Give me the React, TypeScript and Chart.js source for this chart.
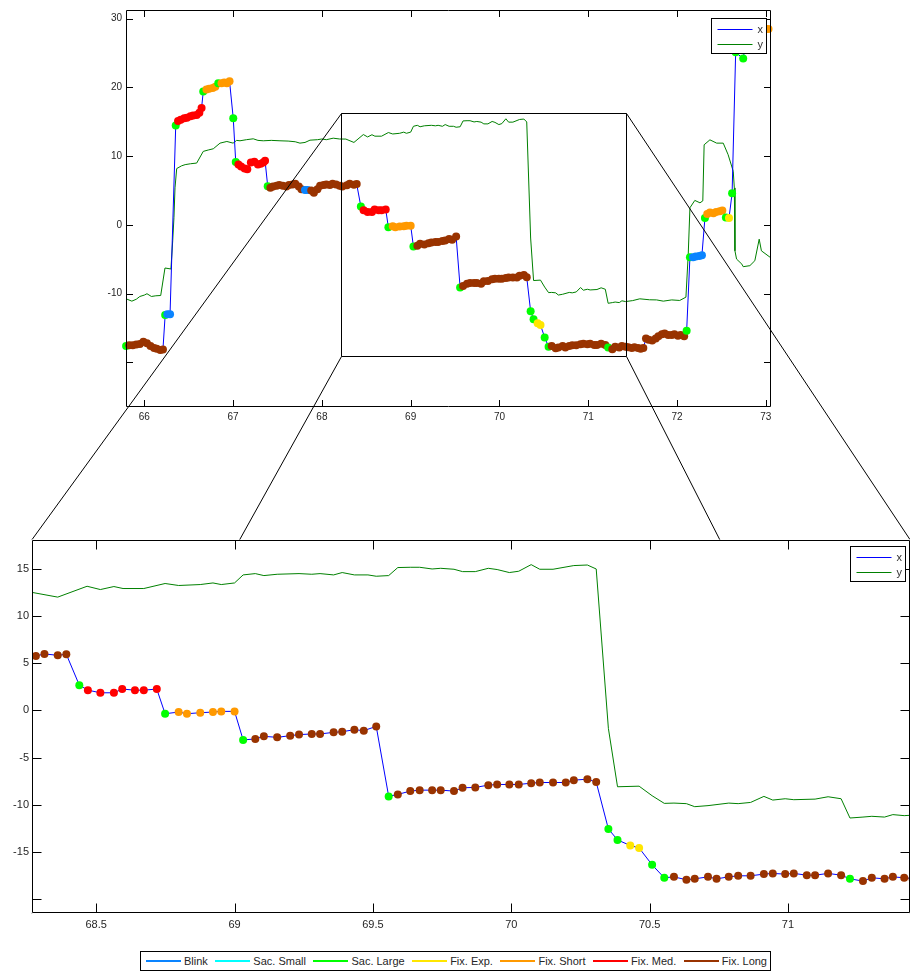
import React, { useEffect, useRef } from "react";
import { Chart, registerables } from "chart.js";

Chart.register(...registerables);

// ---------- data: horizontal gaze position (x) samples with event class ----------
const times = [
  65.795, 65.83, 65.87, 65.91, 65.95, 65.99, 66.03, 66.07, 66.11, 66.14, 66.18, 66.21,
  66.235, 66.26, 66.29, 66.354,
  66.38, 66.41, 66.45, 66.48, 66.52, 66.55, 66.59, 66.62, 66.645,
  66.664, 66.7, 66.73, 66.77, 66.8, 66.833, 66.87, 66.9, 66.93, 66.96,
  67.002, 67.03, 67.06, 67.09, 67.13, 67.16, 67.2, 67.24, 67.28, 67.31, 67.34, 67.36,
  67.39, 67.42, 67.45, 67.49, 67.52, 67.56, 67.6, 67.63, 67.67, 67.7, 67.74, 67.77,
  67.81, 67.84, 67.88, 67.91, 67.95, 67.98, 68.02, 68.05, 68.09, 68.12, 68.16, 68.2, 68.23,
  68.282, 68.313, 68.361, 68.392,
  68.439, 68.47, 68.515, 68.564, 68.594, 68.64, 68.672, 68.719,
  68.749, 68.798, 68.828, 68.876, 68.922, 68.952, 69.0,
  69.031, 69.075, 69.106, 69.154, 69.201, 69.233, 69.279, 69.309, 69.358, 69.389, 69.433, 69.467, 69.512,
  69.557, 69.59, 69.635, 69.669, 69.714, 69.745, 69.793, 69.824, 69.87, 69.917, 69.949, 69.993, 70.027, 70.072, 70.103, 70.151, 70.197, 70.226, 70.275, 70.307,
  70.351, 70.384, 70.43, 70.462, 70.509, 70.553,
  70.588, 70.633, 70.663, 70.711, 70.742, 70.786, 70.82, 70.865, 70.913, 70.945, 70.99, 71.021, 71.068, 71.098, 71.145, 71.192,
  71.224, 71.271, 71.303, 71.349, 71.379, 71.42, 71.45, 71.49, 71.52, 71.56, 71.59, 71.62,
  71.65, 71.68, 71.72, 71.76, 71.79, 71.83, 71.86, 71.9, 71.94, 71.97, 72.01, 72.04, 72.08,
  72.108, 72.145, 72.18, 72.21, 72.25, 72.28, 72.314,
  72.34, 72.37, 72.41, 72.44, 72.48, 72.51,
  72.55, 72.585, 72.62, 72.66, 72.745, 72.78,
  72.82, 72.86, 72.89, 72.93, 72.96, 73.0, 73.03,
];

const xSignal = [
  -17.6, -17.5, -17.5, -17.4, -17.3, -17.0, -17.2, -17.6, -17.9, -18.0, -18.2, -18.1,
  -13.1, -13.0, -13.0, 14.45,
  15.1, 15.3, 15.5, 15.6, 15.8, 15.9, 16.0, 16.3, 17.0,
  19.4, 19.7, 19.8, 19.9, 20.1, 20.6, 20.6, 20.7, 20.6, 20.9,
  15.5, 9.15, 8.8, 8.5, 8.2, 8.1, 9.1, 9.2, 8.8, 8.9, 9.1, 9.35,
  5.64, 5.4, 5.6, 5.7, 5.8, 5.7, 5.6, 5.8, 5.9, 6.0, 5.6, 5.2,
  5.1, 5.1, 5.0, 4.7, 5.2, 5.7, 5.8, 5.9, 5.8, 6.0, 5.9, 5.7, 5.6,
  5.77, 5.98, 5.84, 5.95,
  2.68, 2.15, 1.87, 1.87, 2.26, 2.15, 2.15, 2.26,
  -0.35, -0.17, -0.35, -0.24, -0.17, -0.1, -0.1,
  -3.12, -3.02, -2.74, -2.85, -2.67, -2.56, -2.49, -2.49, -2.32, -2.25, -2.04, -2.14, -1.69,
  -9.1, -8.89, -8.54, -8.44, -8.44, -8.44, -8.54, -8.19, -8.15, -7.91, -7.84, -7.84, -7.84, -7.7, -7.63, -7.63, -7.63, -7.38, -7.28, -7.59,
  -12.55, -13.71, -14.3, -14.56, -16.35, -17.72,
  -17.62, -17.93, -17.83, -17.62, -17.83, -17.62, -17.51, -17.51, -17.33, -17.26, -17.33, -17.26, -17.44, -17.44, -17.26, -17.44,
  -17.83, -18.07, -17.72, -17.83, -17.62, -17.72, -17.8, -17.9, -17.8, -17.9, -18.0, -17.9,
  -16.5, -16.7, -16.8, -16.5, -16.2, -15.9, -15.8, -16.0, -16.0, -15.9, -16.1, -16.0, -16.2,
  -15.4, -4.7, -4.7, -4.6, -4.5, -4.4, 1.0,
  1.6, 1.8, 1.7, 1.9, 2.0, 2.1,
  1.1, 1.0, 4.6, 25.1, 24.2, 27.0,
  28.3, 28.4, 28.4, 28.5, 28.5, 28.5, 28.5,
];

const events = [
  "SL", "FL", "FL", "FL", "FL", "FL", "FL", "FL", "FL", "FL", "FL", "FL",
  "SL", "B", "B", "SL",
  "FM", "FM", "FM", "FM", "FM", "FM", "FM", "FM", "FM",
  "SL", "FS", "FS", "FS", "FS", "SL", "FS", "FS", "FS", "FS",
  "SL", "SL", "FM", "FM", "FM", "FM", "FM", "FM", "FM", "FM", "FM", "FM",
  "SL", "FL", "FL", "FL", "FL", "FL", "FL", "FL", "FL", "FL", "FL", "FL",
  "B", "B", "FL", "FL", "FL", "FL", "FL", "FL", "FL", "FL", "FL", "FL", "FL",
  "FL", "FL", "FL", "FL",
  "SL", "FM", "FM", "FM", "FM", "FM", "FM", "FM",
  "SL", "FS", "FS", "FS", "FS", "FS", "FS",
  "SL", "FL", "FL", "FL", "FL", "FL", "FL", "FL", "FL", "FL", "FL", "FL", "FL",
  "SL", "FL", "FL", "FL", "FL", "FL", "FL", "FL", "FL", "FL", "FL", "FL", "FL", "FL", "FL", "FL", "FL", "FL", "FL", "FL",
  "SL", "SL", "FE", "FE", "SL", "SL",
  "FL", "FL", "FL", "FL", "FL", "FL", "FL", "FL", "FL", "FL", "FL", "FL", "FL", "FL", "FL", "FL",
  "SL", "FL", "FL", "FL", "FL", "FL", "FL", "FL", "FL", "FL", "FL", "FL",
  "FL", "FL", "FL", "FL", "FL", "FL", "FL", "FL", "FL", "FL", "FL", "FL", "FL",
  "SL", "SL", "B", "B", "B", "B", "SL",
  "FS", "FS", "FS", "FS", "FS", "FS",
  "SL", "FE", "SL", "SL", "SL", "SL",
  "FS", "FS", "FS", "FS", "FS", "FS", "FS",
];

// ---------- data: vertical gaze position (y) ----------
const yTimes = [
  65.795, 65.86, 65.91, 65.95, 66.0, 66.03, 66.08, 66.13, 66.185, 66.233, 66.3, 66.32, 66.334, 66.346, 66.365,
  66.42, 66.46, 66.52, 66.59, 66.664, 66.72, 66.777, 66.853, 66.93, 67.0, 67.04, 67.078, 67.15, 67.227, 67.28,
  67.34, 67.43, 67.528, 67.62, 67.7, 67.753, 67.81, 67.866, 67.95, 68.0, 68.05, 68.128, 68.2,
  68.27, 68.361, 68.467, 68.515, 68.564, 68.597, 68.672, 68.749, 68.798, 68.876, 68.922, 68.952, 69.0,
  69.031, 69.075, 69.106, 69.154, 69.233, 69.279, 69.309, 69.358, 69.389, 69.433, 69.482, 69.512, 69.557,
  69.59, 69.635, 69.669, 69.714, 69.745, 69.793, 69.824, 69.87, 69.917, 69.949, 69.993, 70.027, 70.072,
  70.103, 70.151, 70.226, 70.275, 70.307, 70.351, 70.384, 70.462, 70.509, 70.553, 70.588, 70.633, 70.663,
  70.711, 70.786, 70.82, 70.865, 70.913, 70.945, 70.99, 71.021, 71.098, 71.145, 71.192, 71.224, 71.271,
  71.303, 71.349, 71.379, 71.42, 71.5, 71.58, 71.69, 71.77, 71.845, 71.94, 72.03, 72.1, 72.126, 72.145,
  72.2, 72.258, 72.29, 72.305, 72.37, 72.446, 72.52, 72.575, 72.633, 72.645, 72.652, 72.67, 72.73, 72.745,
  72.82, 72.876, 72.925, 72.95, 73.05,
];

const ySignal = [
  -10.74, -11.08, -10.8, -10.4, -10.2, -10.0, -10.4, -10.3, -10.26, -6.26, -6.4, -2.3, 1.05, 5.4, 8.2,
  8.6, 8.77, 8.9, 9.0, 10.7, 10.9, 11.08, 11.9, 12.14, 11.9, 12.3, 12.24, 12.4, 12.53, 12.3,
  12.24, 12.3, 12.24, 12.2, 12.1, 11.9, 12.0, 12.33, 12.4, 12.5, 12.4, 12.62, 12.5,
  12.49, 12.0, 13.15, 12.8, 13.12, 12.91, 12.91, 13.44, 13.23, 13.33, 13.5, 13.33, 13.5,
  14.35, 14.49, 14.28, 14.42, 14.49, 14.42, 14.49, 14.35, 14.6, 14.35, 14.35, 14.21, 14.28,
  15.13, 15.16, 15.16, 14.98, 15.05, 14.95, 14.7, 14.7, 15.05, 14.92, 14.6, 14.74, 15.44,
  14.95, 14.95, 15.34, 15.4, 14.98, -1.9, -8.08, -8.02, -9.03, -9.84, -9.81, -9.87, -10.19,
  -10.08, -9.81, -9.87, -9.74, -9.1, -9.49, -9.35, -9.45, -9.39, -9.14, -9.35, -11.39, -11.29,
  -11.21, -11.29, -11.03, -11.14, -11.0, -10.74, -10.88, -10.9, -11.08, -10.9, -10.98, -10.5, -4.24, 2.5,
  3.57, 3.22, 3.5, 11.66, 12.38, 11.9, 11.9, 10.22, 7.8, 5.39, -3.76, -4.96, -5.7, -6.07,
  -5.92, -5.2, -2.07, -3.76, -4.72,
];

// ---------- event classes ----------
const eventCodes = ["B", "SS", "SL", "FE", "FS", "FM", "FL"];
const eventLabels = ["Blink", "Sac. Small", "Sac. Large", "Fix. Exp.", "Fix. Short", "Fix. Med.", "Fix. Long"];
const eventColors = ["#0a84ff", "#00ffff", "#00ff00", "#ffe600", "#ff9900", "#ff0000", "#993300"];

// ---------- axes ----------
const overviewX = [65.794, 73.058];
const overviewY = [-26.4, 31.26];
const overviewXTicks = [66, 67, 68, 69, 70, 71, 72, 73];
const overviewYTicks = [-20, -10, 0, 10, 20, 30];
const detailX = [68.268, 71.441];
const detailY = [-21.48, 18.09];
const detailXTicks = [68.5, 69, 69.5, 70, 70.5, 71];
const detailYTicks = [-20, -15, -10, -5, 0, 5, 10, 15];
const unlabeledY = [-20];
const zoomWindowX = [68.215, 71.425];
const zoomWindowY = [-19.08, 16.23];

const FONT = '"Liberation Sans", Arial, Helvetica, sans-serif';

const n = Math.min(times.length, xSignal.length, events.length);
const xPoints = times.slice(0, n).map((t, i) => ({ x: t, y: xSignal[i] }));
const markerColors = events.slice(0, n).map((e) => eventColors[eventCodes.indexOf(e)]);
const yPoints = yTimes.map((t, i) => ({ x: t, y: ySignal[i] }));

function axesPlugin(p: any) {
  return {
    id: "matlabAxes",
    beforeDraw(chart: any) {
      const { ctx, chartArea: a } = chart;
      ctx.save();
      ctx.fillStyle = "#ffffff";
      ctx.fillRect(a.left, a.top, a.right - a.left, a.bottom - a.top);
      ctx.restore();
    },
    afterDraw(chart: any) {
      const { ctx, chartArea: a } = chart;
      const L = Math.round(a.left) + 0.5;
      const R = Math.round(a.right) - 0.5;
      const T = Math.round(a.top) + 0.5;
      const B = Math.round(a.bottom) - 0.5;
      ctx.save();
      ctx.strokeStyle = "#000";
      ctx.lineWidth = 1;
      ctx.beginPath();
      ctx.rect(L, T, R - L, B - T);
      const xs = chart.scales.x;
      const ys = chart.scales.y;
      xs.ticks.forEach((t: any) => {
        const px = Math.round(xs.getPixelForValue(t.value)) + 0.5;
        ctx.moveTo(px, B);
        ctx.lineTo(px, B - p.tickLen);
        ctx.moveTo(px, T);
        ctx.lineTo(px, T + p.tickLen);
      });
      ys.ticks.forEach((t: any) => {
        const py = Math.round(ys.getPixelForValue(t.value)) + 0.5;
        ctx.moveTo(L, py);
        ctx.lineTo(L + p.tickLen, py);
        ctx.moveTo(R, py);
        ctx.lineTo(R - p.tickLen, py);
      });
      ctx.stroke();

      // series legend (x / y)
      const lx = Math.round(a.right + p.legendDx) + 0.5;
      const ly = Math.round(a.top + p.legendDy) + 0.5;
      const w = 55;
      const h = 35;
      ctx.fillStyle = "#fff";
      ctx.fillRect(lx, ly, w, h);
      ctx.strokeStyle = "#000";
      ctx.strokeRect(lx, ly, w, h);
      ctx.font = `11px ${FONT}`;
      ctx.textBaseline = "middle";
      chart.data.datasets.forEach((ds: any, i: number) => {
        const yy = Math.round(ly + 10 + i * 15.5) + 0.5;
        ctx.strokeStyle = ds.borderColor;
        ctx.beginPath();
        ctx.moveTo(lx + 6, yy);
        ctx.lineTo(lx + 41, yy);
        ctx.stroke();
        ctx.fillStyle = "#333";
        ctx.fillText(ds.label, lx + 46, yy);
      });
      ctx.restore();
    },
  };
}

function makeConfig(p: any): any {
  return {
    type: "line",
    data: {
      datasets: [
        {
          label: "x",
          data: xPoints,
          borderColor: "#0000ff",
          borderWidth: 1,
          pointRadius: 4,
          pointBackgroundColor: markerColors,
          pointBorderColor: markerColors,
          pointBorderWidth: 0,
          tension: 0,
          clip: p.clip,
        },
        {
          label: "y",
          data: yPoints,
          borderColor: "#008000",
          borderWidth: 1,
          pointRadius: 0,
          tension: 0,
          clip: p.clip,
        },
      ],
    },
    options: {
      animation: false,
      responsive: false,
      devicePixelRatio: 1,
      events: [],
      layout: { padding: p.padding },
      plugins: { legend: { display: false }, tooltip: { enabled: false } },
      scales: {
        x: {
          type: "linear",
          min: p.xRange[0],
          max: p.xRange[1],
          afterBuildTicks: (s: any) => {
            s.ticks = p.xTicks.map((v: number) => ({ value: v }));
          },
          afterFit: (s: any) => {
            s.height = p.xHeight;
          },
          grid: { display: false, drawTicks: false },
          border: { display: false },
          ticks: {
            autoSkip: false,
            maxRotation: 0,
            padding: p.xPad,
            color: "#262626",
            font: { family: FONT, size: p.fontSize },
            callback: (v: any) => String(v),
          },
        },
        y: {
          type: "linear",
          min: p.yRange[0],
          max: p.yRange[1],
          afterBuildTicks: (s: any) => {
            s.ticks = p.yTicks.map((v: number) => ({ value: v }));
          },
          afterFit: (s: any) => {
            s.width = p.yWidth;
          },
          grid: { display: false, drawTicks: false },
          border: { display: false },
          ticks: {
            autoSkip: false,
            padding: p.yPad,
            color: "#262626",
            font: { family: FONT, size: p.fontSize },
            callback: (v: any) => (unlabeledY.includes(v) ? "" : String(v)),
          },
        },
      },
    },
    plugins: [axesPlugin(p)],
  };
}

const DETAIL_TOP = 530;

function drawConnectors(canvas: HTMLCanvasElement, top: any, bottom: any) {
  const ctx = canvas.getContext("2d")!;
  ctx.clearRect(0, 0, canvas.width, canvas.height);
  const xs = top.scales.x;
  const ys = top.scales.y;
  const l = Math.round(xs.getPixelForValue(zoomWindowX[0])) + 0.5;
  const r = Math.round(xs.getPixelForValue(zoomWindowX[1])) + 0.5;
  const t = Math.round(ys.getPixelForValue(zoomWindowY[1])) + 0.5;
  const b = Math.round(ys.getPixelForValue(zoomWindowY[0])) + 0.5;
  const a = bottom.chartArea;
  const bl = a.left;
  const br = a.right;
  const bt = a.top + DETAIL_TOP;
  const bb = a.bottom + DETAIL_TOP;
  ctx.save();
  ctx.strokeStyle = "#000";
  ctx.lineWidth = 1;
  ctx.beginPath();
  ctx.rect(l, t, r - l, b - t);
  ctx.moveTo(l, t);
  ctx.lineTo(bl, bt);
  ctx.moveTo(r, t);
  ctx.lineTo(br, bt);
  ctx.moveTo(l, b);
  ctx.lineTo(bl, bb);
  ctx.moveTo(r, b);
  ctx.lineTo(br, bb);
  ctx.stroke();
  ctx.restore();
}

export default function App() {
  const topRef = useRef<HTMLCanvasElement>(null);
  const botRef = useRef<HTMLCanvasElement>(null);
  const ovRef = useRef<HTMLCanvasElement>(null);

  useEffect(() => {
    const top = new Chart(
      topRef.current!,
      makeConfig({
        xRange: overviewX,
        yRange: overviewY,
        xTicks: overviewXTicks,
        yTicks: overviewYTicks,
        padding: { left: 0, top: 8, right: 139, bottom: 0 },
        yWidth: 126,
        xHeight: 432 - 406.5,
        tickLen: 6.5,
        fontSize: 10,
        xPad: 5,
        yPad: 4,
        clip: false,
        legendDx: -60,
        legendDy: 8,
      })
    );
    const bot = new Chart(
      botRef.current!,
      makeConfig({
        xRange: detailX,
        yRange: detailY,
        xTicks: detailXTicks,
        yTicks: detailYTicks,
        padding: { left: 0, top: 8, right: 1.5, bottom: 0 },
        yWidth: 32,
        xHeight: 410 - 383.3,
        tickLen: 9,
        fontSize: 11,
        xPad: 5,
        yPad: 3,
        clip: 0,
        legendDx: -60.5,
        legendDy: 6,
      })
    );
    drawConnectors(ovRef.current!, top, bot);
    return () => {
      top.destroy();
      bot.destroy();
    };
  }, []);

  return (
    <div
      style={{
        position: "absolute",
        left: 0,
        top: 0,
        width: 910,
        height: 973,
        overflow: "hidden",
        background: "#fff",
      }}
    >
      <canvas
        ref={topRef}
        width={910}
        height={432}
        style={{ position: "absolute", left: 0, top: 0, width: 910, height: 432 }}
      />
      <canvas
        ref={ovRef}
        width={910}
        height={973}
        style={{ position: "absolute", left: 0, top: 0, width: 910, height: 973 }}
      />
      <canvas
        ref={botRef}
        width={914}
        height={410}
        style={{ position: "absolute", left: 0, top: DETAIL_TOP, width: 914, height: 410 }}
      />
      <div
        style={{
          position: "absolute",
          left: 140,
          top: 951,
          width: 631,
          height: 20,
          boxSizing: "border-box",
          border: "1px solid #000",
          background: "#fff",
          display: "flex",
          alignItems: "center",
          paddingLeft: 5,
          fontFamily: FONT,
          fontSize: 11,
          color: "#262626",
          whiteSpace: "nowrap",
          overflow: "hidden",
        }}
      >
        {eventLabels.map((label, i) => (
          <div key={label} style={{ display: "flex", alignItems: "center", marginRight: 7.5 }}>
            <span
              style={{
                display: "inline-block",
                width: 35,
                height: 0,
                borderTop: `2px solid ${eventColors[i]}`,
                marginRight: 3,
              }}
            />
            <span>{label}</span>
          </div>
        ))}
      </div>
    </div>
  );
}
